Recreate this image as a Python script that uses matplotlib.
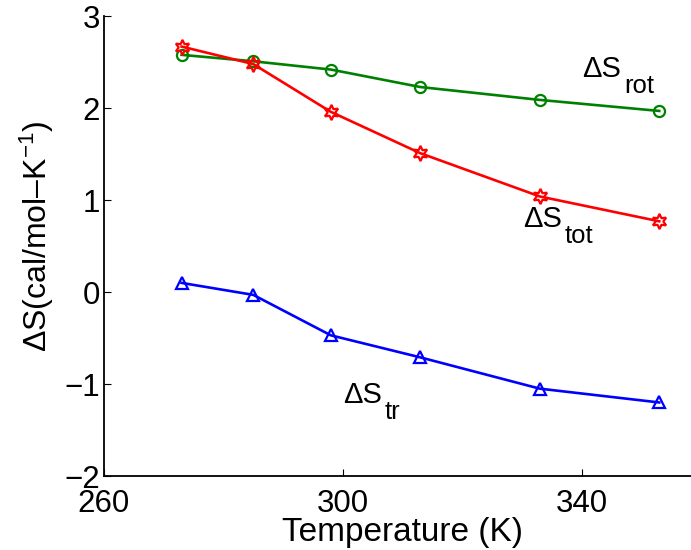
import numpy as np
import matplotlib
matplotlib.use('Agg')
import matplotlib.pyplot as plt

# data
temps = [273, 285, 298, 313, 333, 353]
ds_rot = [2.58, 2.51, 2.42, 2.23, 2.09, 1.97]
ds_tot = [2.67, 2.48, 1.96, 1.51, 1.04, 0.77]
ds_tr = [0.10, -0.03, -0.47, -0.71, -1.05, -1.20]

plt.rcParams['font.family'] = 'Liberation Sans'
plt.rcParams['mathtext.fontset'] = 'custom'
plt.rcParams['mathtext.rm'] = 'Liberation Sans'
plt.rcParams['mathtext.it'] = 'Liberation Sans:italic'

fig = plt.figure(figsize=(6.91, 5.5), dpi=100)
ax = fig.add_axes([0.1505, 0.1345, 0.864, 0.836])

lw = 1.9
ax.plot(temps, ds_rot, '-', color=(0, 0.5, 0), lw=lw, marker='o', ms=8,
        mfc='none', mew=1.6)
ax.plot(temps, ds_tot, '-', color='red', lw=lw, marker=(6, 1, 0), ms=11,
        mfc='none', mew=1.6)
ax.plot(temps, ds_tr, '-', color='blue', lw=lw, marker='^', ms=9,
        mfc='none', mew=1.6)

def delta_label(x, y, sub):
	# MATLAB-style subscript: big and dropped well below the baseline
	t = ax.text(x, y, '\u0394S', fontsize=21, va='baseline')
	ax.annotate(sub, xy=(1, y), xycoords=(t, 'data'), xytext=(2, -11.5),
	            textcoords='offset points', fontsize=18.5, va='baseline')

delta_label(340.1, 2.337, 'rot')
delta_label(330.2, 0.707, 'tot')
delta_label(300.0, -1.207, 'tr')

ax.set_xlim(260, 360)
ax.set_ylim(-2, 3)
ax.set_xticks([260, 300, 340])
ax.set_yticks([-2, -1, 0, 1, 2, 3])
ax.set_yticklabels(['\u22122', '\u22121', '0', '1', '2', '3'])

ax.spines['top'].set_visible(False)
ax.spines['right'].set_visible(False)
ax.spines['left'].set_linewidth(1.3)
ax.spines['bottom'].set_linewidth(1.3)
ax.tick_params(direction='in', length=5, width=0.8, labelsize=22.5)
ax.tick_params(axis='x', pad=9)
ax.tick_params(axis='y', pad=3)

ax.set_xlabel('Temperature (K)', fontsize=24, labelpad=-1)
ax.set_ylabel('\u0394S(cal/mol\u2013K$^{\\mathregular{-1}}$)', fontsize=23)
ax.yaxis.set_label_coords(-0.08, 0.521)

fig.savefig('out.png', dpi=100)
